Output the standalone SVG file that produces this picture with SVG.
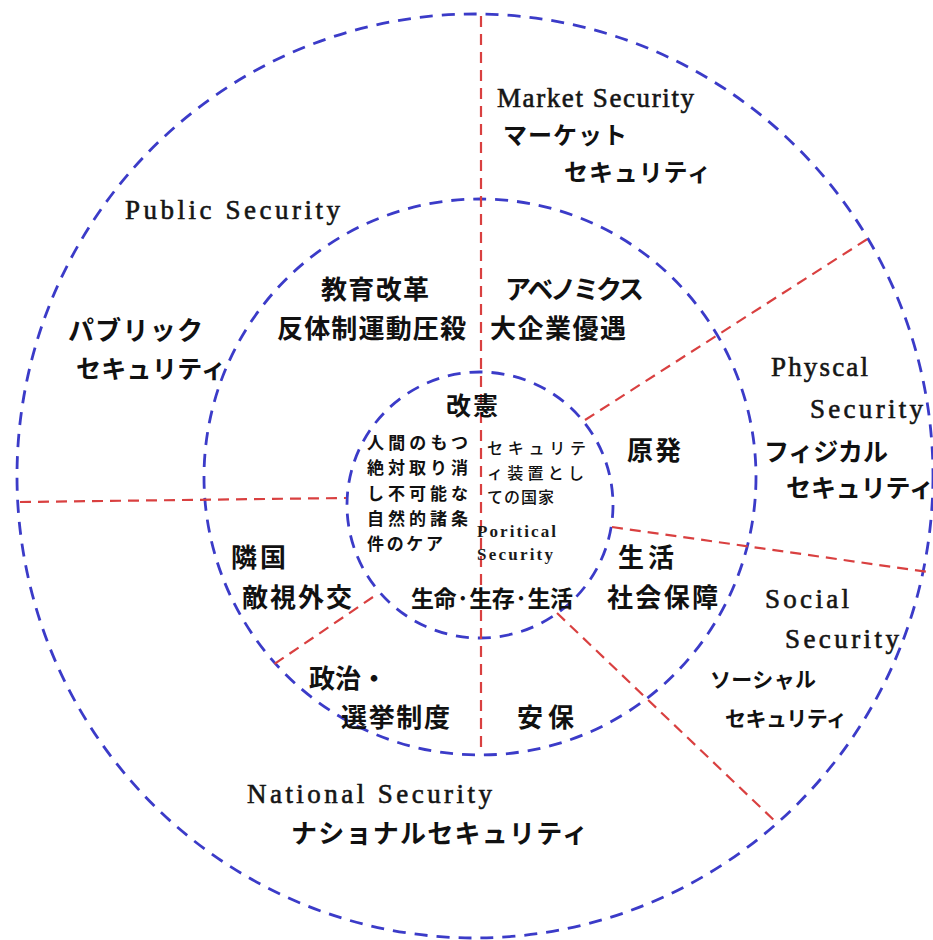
<svg xmlns="http://www.w3.org/2000/svg" width="933" height="940" viewBox="0 0 933 940">
<style>
.ring{fill:none;stroke:#3b3bc8;stroke-width:2.8;stroke-dasharray:13 9}
.div{fill:none;stroke:#d94040;stroke-width:2.2;stroke-dasharray:11 7}
.en{font-family:"Liberation Serif","Times New Roman",serif;font-size:27px;fill:#151515;stroke:#151515;stroke-width:0.6}
.ensm{font-family:"Liberation Serif","Times New Roman",serif;font-size:17px;fill:#1a1a1a;font-weight:bold}
.jp{font-family:"Noto Sans CJK JP","Noto Sans CJK SC",sans-serif;font-weight:bold;fill:#111}
.f26{font-size:26px}.f25{font-size:25px}.f24{font-size:24px}.f23{font-size:23px}.f21{font-size:21px}.f17{font-size:17px}.f16{font-size:16px;font-weight:500}
</style>
<rect width="933" height="940" fill="#fff"/>
<g id="rings">
<ellipse class="ring" cx="475" cy="476" rx="458" ry="462"/>
<ellipse class="ring" cx="480" cy="477" rx="276" ry="278"/>
<circle class="ring" cx="480" cy="505" r="133"/>
</g>
<g id="connectors">
<line class="div" x1="481" y1="16" x2="481" y2="750"/>
<line class="div" x1="585" y1="420" x2="869" y2="238"/>
<line class="div" x1="20" y1="502" x2="346" y2="498"/>
<line class="div" x1="612" y1="527" x2="928" y2="572"/>
<line class="div" x1="373" y1="597" x2="270" y2="667"/>
<line class="div" x1="557" y1="613" x2="778" y2="824"/>
</g>
<g id="market">
<text class="en" x="497" y="107" textLength="197" lengthAdjust="spacing">Market Security</text>
<text class="jp f24" x="503" y="144" textLength="124" lengthAdjust="spacing">マーケット</text>
<text class="jp f24" x="564" y="181" textLength="147" lengthAdjust="spacing">セキュリティ</text>
</g>
<g id="public">
<text class="en" x="125" y="219" textLength="215" lengthAdjust="spacing">Public Security</text>
<text class="jp f26" x="68" y="340" textLength="135" lengthAdjust="spacing">パブリック</text>
<text class="jp f25" x="76" y="378" textLength="150" lengthAdjust="spacing">セキュリティ</text>
</g>
<g id="education">
<text class="jp f26" x="321" y="299" textLength="108" lengthAdjust="spacing">教育改革</text>
<text class="jp f26" x="277" y="338" textLength="189" lengthAdjust="spacing">反体制運動圧殺</text>
</g>
<g id="abenomics">
<text class="jp f26" x="505" y="299" textLength="139" lengthAdjust="spacing">アベノミクス</text>
<text class="jp f26" x="490" y="338" textLength="136" lengthAdjust="spacing">大企業優遇</text>
</g>
<g id="core">
<text class="jp f25" x="446" y="415" textLength="52" lengthAdjust="spacing">改憲</text>
<text class="jp f17" x="367" y="449" textLength="101" lengthAdjust="spacing">人間のもつ</text>
<text class="jp f17" x="367" y="474" textLength="101" lengthAdjust="spacing">絶対取り消</text>
<text class="jp f17" x="367" y="500" textLength="101" lengthAdjust="spacing">し不可能な</text>
<text class="jp f17" x="367" y="525" textLength="101" lengthAdjust="spacing">自然的諸条</text>
<text class="jp f17" x="367" y="550" textLength="76" lengthAdjust="spacing">件のケア</text>
<text class="jp f16" x="487" y="454" textLength="99" lengthAdjust="spacing">セキュリテ</text>
<text class="jp f16" x="487" y="479" textLength="97" lengthAdjust="spacing">ィ装置とし</text>
<text class="jp f16" x="487" y="503" textLength="67" lengthAdjust="spacing">ての国家</text>
<text class="ensm" x="477" y="537" textLength="79" lengthAdjust="spacing">Poritical</text>
<text class="ensm" x="477" y="560" textLength="76" lengthAdjust="spacing">Security</text>
<text class="jp f23" x="411" y="607" textLength="162" lengthAdjust="spacing">生命·生存·生活</text>
</g>
<g id="nuclear">
<text class="jp f26" x="627" y="460" textLength="54" lengthAdjust="spacing">原発</text>
</g>
<g id="physical">
<text class="en" x="771" y="376" textLength="97" lengthAdjust="spacing">Physcal</text>
<text class="en" x="810" y="418" textLength="113" lengthAdjust="spacing">Security</text>
<text class="jp f25" x="764" y="461" textLength="124" lengthAdjust="spacing">フィジカル</text>
<text class="jp f25" x="786" y="497" textLength="148" lengthAdjust="spacing">セキュリティ</text>
</g>
<g id="social">
<text class="en" x="765" y="608" textLength="84" lengthAdjust="spacing">Social</text>
<text class="en" x="785" y="648" textLength="114" lengthAdjust="spacing">Security</text>
<text class="jp f21" x="710" y="687" textLength="106" lengthAdjust="spacing">ソーシャル</text>
<text class="jp f21" x="725" y="726" textLength="122" lengthAdjust="spacing">セキュリティ</text>
</g>
<g id="life">
<text class="jp f26" x="618" y="567" textLength="56" lengthAdjust="spacing">生活</text>
<text class="jp f26" x="607" y="607" textLength="111" lengthAdjust="spacing">社会保障</text>
</g>
<g id="neighbor">
<text class="jp f26" x="231" y="567" textLength="55" lengthAdjust="spacing">隣国</text>
<text class="jp f26" x="242" y="607" textLength="110" lengthAdjust="spacing">敵視外交</text>
</g>
<g id="politics">
<text class="jp f26" x="309" y="688">政治・</text>
<text class="jp f26" x="341" y="727" textLength="109" lengthAdjust="spacing">選挙制度</text>
</g>
<g id="anpo">
<text class="jp f26" x="517" y="727" textLength="57" lengthAdjust="spacing">安保</text>
</g>
<g id="national">
<text class="en" x="247" y="803" textLength="245" lengthAdjust="spacing">National Security</text>
<text class="jp f26" x="291" y="843" textLength="297" lengthAdjust="spacing">ナショナルセキュリティ</text>
</g>
</svg>
